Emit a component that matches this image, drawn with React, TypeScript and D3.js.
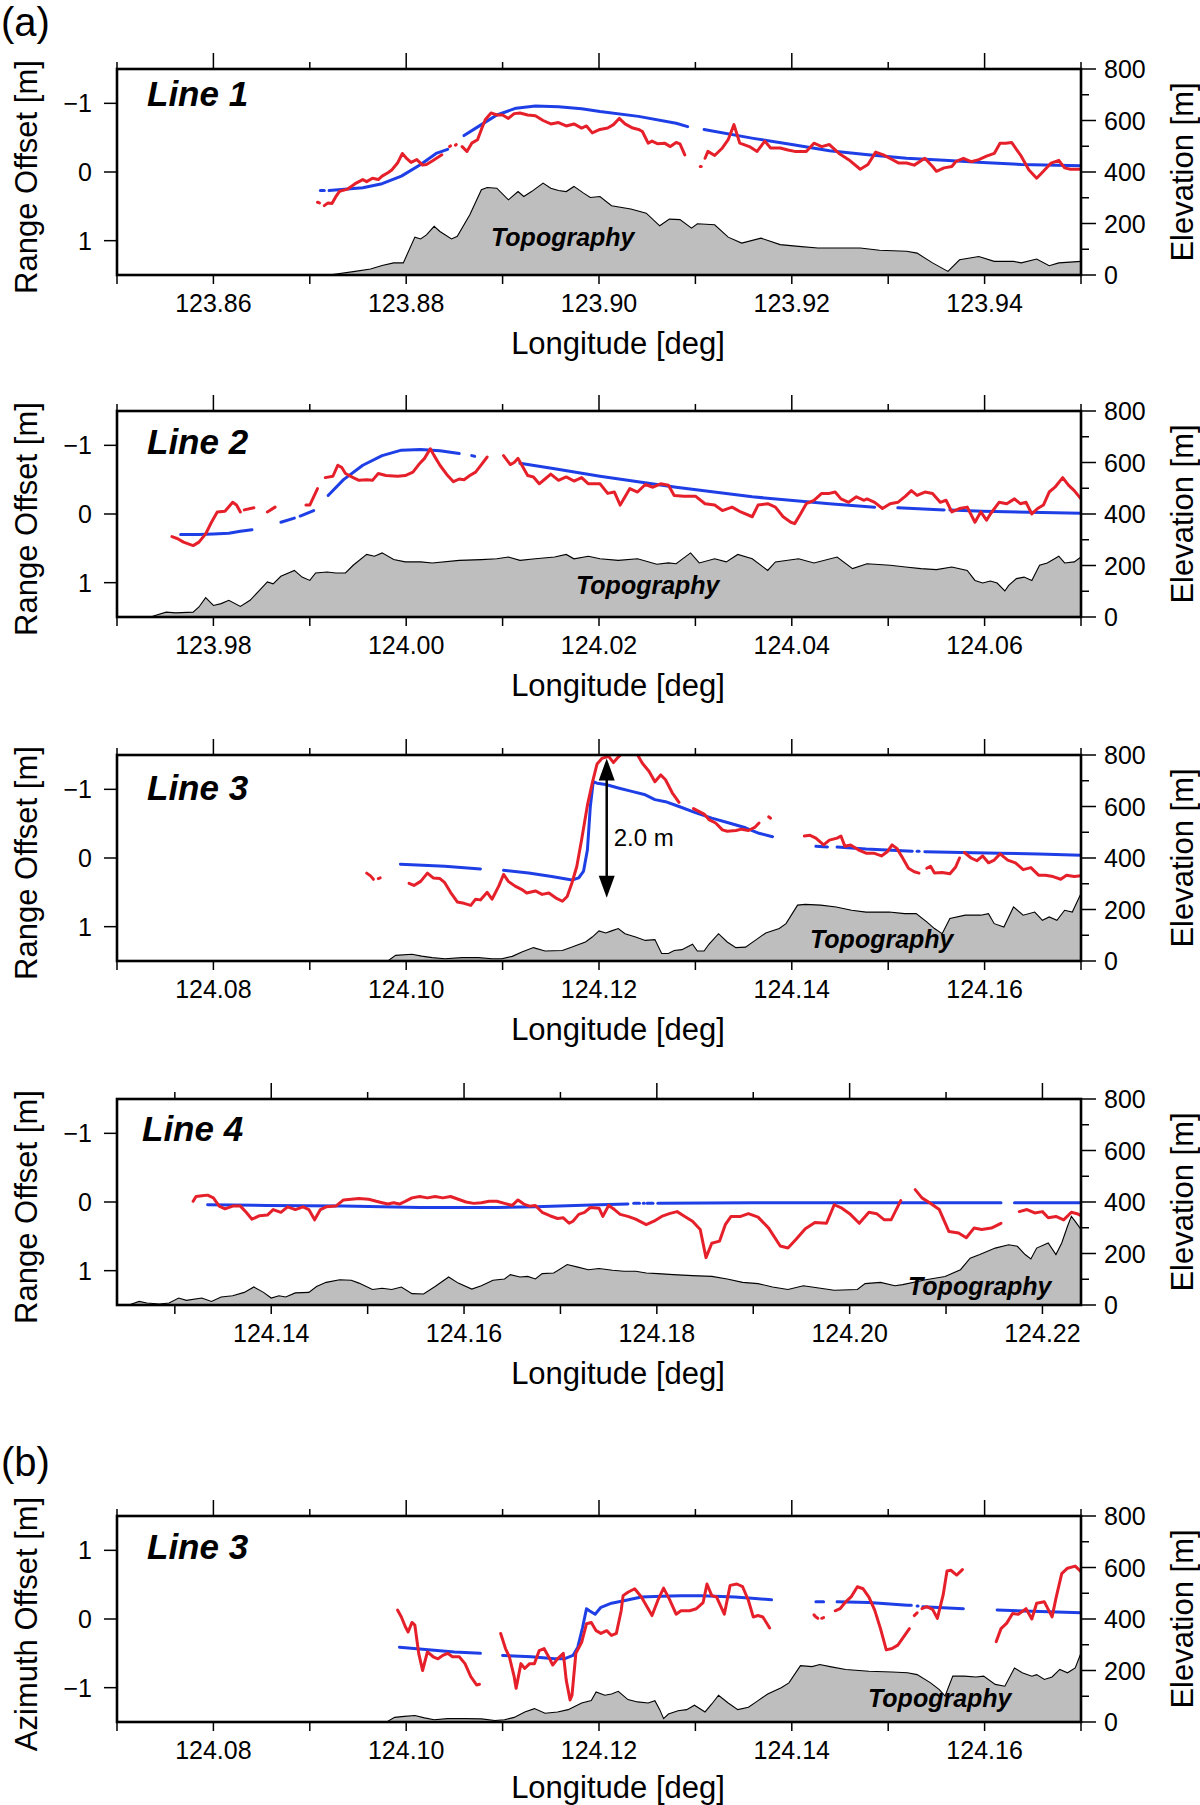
import React from "react";
import * as d3 from "d3";

type Pt = [number, number];

const FONT = "'Liberation Sans', Arial, Helvetica, sans-serif";

// ---------------- DATA ----------------
const lonDomains: [number, number][] = [
  [123.85, 123.95],
  [123.97, 124.07],
  [124.07, 124.17],
  [124.124, 124.224],
  [124.07, 124.17],
];
const lineNames = ["Line 1", "Line 2", "Line 3", "Line 4", "Line 3"];
const yTitles = ["Range Offset [m]", "Range Offset [m]", "Range Offset [m]", "Range Offset [m]", "Azimuth Offset [m]"];
const offsetTicks = [-1, 0, 1];
const elevMajorTicks = [0, 200, 400, 600, 800];
const elevMinorTicks = [100, 300, 500, 700];
const xTitle = "Longitude [deg]";
const elevTitle = "Elevation [m]";
const topoName = "Topography";

const topo1: Pt[] = [[123.85,0],[123.872,0],[123.8747,14],[123.8763,23],[123.8775,37],[123.8787,47],[123.8797,47],[123.88,72],[123.8809,147],[123.8815,140],[123.8821,156],[123.8829,189],[123.8835,169],[123.8847,140],[123.8853,150],[123.8866,234],[123.8878,331],[123.8884,340],[123.8894,337],[123.8906,292],[123.8916,324],[123.8922,305],[123.893,324],[123.8942,357],[123.895,337],[123.8958,328],[123.8966,324],[123.8974,344],[123.8984,318],[123.8991,301],[123.9001,305],[123.9013,269],[123.9033,256],[123.9049,240],[123.9063,191],[123.9073,217],[123.9084,215],[123.9096,182],[123.9102,199],[123.912,195],[123.9134,147],[123.9148,124],[123.9168,143],[123.9188,118],[123.9207,111],[123.9227,105],[123.9271,105],[123.9291,96],[123.9319,92],[123.933,85],[123.9346,47],[123.9362,14],[123.9374,59],[123.9394,72],[123.941,53],[123.943,53],[123.9438,47],[123.9454,62],[123.9467,36],[123.9477,47],[123.95,53]];

const red1: Pt[][] = [
  [[123.8708,0.44],[123.871,0.45]],
  [[123.8715,0.49],[123.8719,0.45],[123.8723,0.46],[123.8727,0.36],[123.8731,0.28],[123.8739,0.25],[123.8747,0.17],[123.8755,0.11],[123.8759,0.14],[123.8765,0.09],[123.8771,0.11],[123.8775,0.06],[123.8781,0.01],[123.8785,-0.03],[123.8791,-0.13],[123.8796,-0.27],[123.8801,-0.19],[123.8805,-0.14],[123.8811,-0.18],[123.8817,-0.1],[123.8821,-0.11],[123.8827,-0.16],[123.8837,-0.25]],
  [[123.8845,-0.37],[123.8846,-0.38]],
  [[123.8851,-0.39],[123.8852,-0.4]],
  [[123.8858,-0.37],[123.8863,-0.3],[123.8868,-0.42],[123.8874,-0.47],[123.8878,-0.62],[123.8882,-0.76],[123.8888,-0.86],[123.8894,-0.83],[123.89,-0.83],[123.8906,-0.78],[123.8912,-0.85],[123.8918,-0.86],[123.8926,-0.83],[123.8934,-0.82],[123.8942,-0.75],[123.895,-0.7],[123.8958,-0.72],[123.8966,-0.67],[123.8974,-0.7],[123.8982,-0.64],[123.8987,-0.67],[123.8993,-0.57],[123.9001,-0.62],[123.9009,-0.64],[123.9015,-0.69],[123.9021,-0.78],[123.9027,-0.7],[123.9035,-0.64],[123.9041,-0.62],[123.9045,-0.59],[123.9051,-0.42],[123.9055,-0.45],[123.9061,-0.41],[123.9068,-0.42],[123.9074,-0.37],[123.908,-0.43],[123.9084,-0.41],[123.9089,-0.25]],
  [[123.9105,-0.08],[123.9106,-0.08]],
  [[123.911,-0.2],[123.9113,-0.3],[123.912,-0.24],[123.9128,-0.35],[123.9134,-0.47],[123.914,-0.69],[123.9146,-0.42],[123.9156,-0.37],[123.9164,-0.3],[123.9172,-0.45],[123.9178,-0.35],[123.9188,-0.35],[123.9196,-0.32],[123.9203,-0.3],[123.9215,-0.3],[123.9223,-0.42],[123.9231,-0.37],[123.9239,-0.4],[123.9249,-0.27],[123.9259,-0.18],[123.9271,-0.04],[123.9279,-0.11],[123.9287,-0.29],[123.9295,-0.25],[123.9303,-0.19],[123.9311,-0.13],[123.9319,-0.13],[123.9327,-0.1],[123.9338,-0.2],[123.9346,-0.08],[123.935,-0.01],[123.9358,-0.06],[123.9366,-0.08],[123.937,-0.15],[123.9378,-0.2],[123.9386,-0.15],[123.9394,-0.18],[123.9402,-0.23],[123.941,-0.27],[123.9416,-0.42],[123.9422,-0.42],[123.9428,-0.43],[123.9438,-0.23],[123.9446,-0.03],[123.9454,0.09],[123.9461,-0.01],[123.9469,-0.13],[123.9477,-0.17],[123.9483,-0.06],[123.9489,-0.04],[123.9497,-0.04],[123.95,-0.04]],
];

const blue1: Pt[][] = [
  [[123.8711,0.27],[123.8715,0.27]],
  [[123.872,0.27],[123.8755,0.23],[123.8775,0.17],[123.8795,0.06],[123.8815,-0.11],[123.8831,-0.27],[123.8843,-0.33]],
  [[123.886,-0.53],[123.8878,-0.69],[123.8894,-0.83],[123.8914,-0.93],[123.8934,-0.96],[123.8958,-0.95],[123.8982,-0.92],[123.9001,-0.88],[123.9041,-0.81],[123.908,-0.71],[123.9092,-0.66]],
  [[123.9109,-0.62],[123.916,-0.49],[123.92,-0.4],[123.9239,-0.31],[123.9279,-0.25],[123.9319,-0.2],[123.9358,-0.17],[123.9398,-0.14],[123.9438,-0.11],[123.95,-0.09]],
];

const topo2: Pt[] = [[123.97,0],[123.9737,3],[123.9751,19],[123.9761,16],[123.9779,19],[123.9785,39],[123.9792,75],[123.98,45],[123.9808,52],[123.9816,65],[123.9828,41],[123.9838,65],[123.9848,104],[123.9856,136],[123.9862,129],[123.987,158],[123.9884,181],[123.9892,155],[123.99,142],[123.9906,171],[123.9918,175],[123.9927,171],[123.9937,171],[123.9945,201],[123.9959,243],[123.9967,236],[123.9975,249],[123.9987,223],[123.9999,214],[124.0015,214],[124.0027,210],[124.0055,220],[124.0078,223],[124.0094,226],[124.0106,233],[124.0118,220],[124.0134,226],[124.0154,233],[124.0166,243],[124.0174,226],[124.0189,236],[124.0201,226],[124.022,220],[124.024,226],[124.026,205],[124.0272,210],[124.028,207],[124.0295,249],[124.0304,210],[124.032,226],[124.0332,214],[124.0344,243],[124.0359,226],[124.0375,181],[124.0383,214],[124.0407,226],[124.0423,210],[124.0447,233],[124.0463,188],[124.0478,207],[124.0502,201],[124.0518,194],[124.0534,188],[124.055,184],[124.0566,194],[124.0582,181],[124.059,142],[124.0598,132],[124.0606,140],[124.0613,132],[124.0621,101],[124.0625,123],[124.0633,149],[124.0641,155],[124.0649,142],[124.0657,201],[124.0665,210],[124.0677,236],[124.0683,210],[124.0693,214],[124.07,233]];

const red2: Pt[][] = [
  [[123.9757,0.33],[123.9763,0.36],[123.9769,0.41],[123.9779,0.46],[123.9785,0.41],[123.9792,0.29],[123.9798,0.12],[123.9804,-0.03],[123.9812,-0.04],[123.982,-0.17],[123.9824,-0.13],[123.9828,-0.03]],
  [[123.9832,-0.06],[123.9842,-0.09]],
  [[123.9856,-0.03],[123.9864,-0.1]],
  [[123.9896,-0.13],[123.99,-0.13],[123.9904,-0.25],[123.9908,-0.37]],
  [[123.9916,-0.53],[123.9924,-0.55],[123.9929,-0.71],[123.9933,-0.68],[123.9937,-0.59],[123.9945,-0.53],[123.9951,-0.49],[123.9959,-0.5],[123.9965,-0.49],[123.9971,-0.59],[123.9979,-0.56],[123.9991,-0.55],[123.9999,-0.56],[124.0007,-0.61],[124.0013,-0.72],[124.0019,-0.81],[124.0025,-0.95],[124.0029,-0.85],[124.0035,-0.71],[124.0043,-0.56],[124.0049,-0.47],[124.0055,-0.51],[124.006,-0.5],[124.0066,-0.56],[124.0072,-0.61],[124.0078,-0.72],[124.0084,-0.83]],
  [[124.0101,-0.85],[124.0108,-0.72],[124.0112,-0.75],[124.0116,-0.81],[124.012,-0.71],[124.0126,-0.56],[124.0132,-0.54],[124.0138,-0.44],[124.0144,-0.51],[124.015,-0.58],[124.0158,-0.49],[124.0166,-0.54],[124.0174,-0.48],[124.0182,-0.53],[124.0189,-0.44],[124.0201,-0.44],[124.0209,-0.3],[124.0216,-0.32],[124.0222,-0.13],[124.0232,-0.37],[124.024,-0.32],[124.0248,-0.43],[124.0256,-0.39],[124.0264,-0.44],[124.0272,-0.42],[124.0278,-0.27],[124.0288,-0.26],[124.03,-0.26],[124.031,-0.15],[124.032,-0.13],[124.0328,-0.05],[124.0338,-0.1],[124.0347,-0.03],[124.0359,0.04],[124.0365,-0.13],[124.0375,-0.15],[124.0383,-0.1],[124.0391,0.04],[124.0399,0.12],[124.0403,0.14],[124.0409,0.0],[124.0415,-0.15],[124.0423,-0.2],[124.0431,-0.3],[124.0439,-0.3],[124.0445,-0.32],[124.0451,-0.22],[124.0459,-0.17],[124.0467,-0.25],[124.0475,-0.2],[124.0478,-0.22],[124.0486,-0.17],[124.0494,-0.08],[124.0502,-0.15],[124.051,-0.17],[124.0518,-0.26],[124.0524,-0.34],[124.053,-0.27],[124.0538,-0.32],[124.0546,-0.3],[124.0554,-0.17],[124.056,-0.2],[124.0566,-0.03],[124.0574,-0.08],[124.0582,-0.1],[124.059,0.12],[124.0596,-0.03],[124.0602,0.09],[124.0606,0.0],[124.0615,-0.17],[124.0623,-0.15],[124.0631,-0.22],[124.0637,-0.15],[124.0643,-0.17],[124.0649,0.0],[124.0655,-0.08],[124.0661,-0.13],[124.0667,-0.32],[124.0673,-0.39],[124.0681,-0.53],[124.0687,-0.42],[124.0693,-0.34],[124.07,-0.22]],
];

const blue2: Pt[][] = [
  [[123.9766,0.3],[123.9785,0.3],[123.98,0.29],[123.9816,0.28],[123.9828,0.25],[123.984,0.23]],
  [[123.987,0.12],[123.9884,0.06]],
  [[123.989,0.03],[123.9904,-0.05]],
  [[123.9919,-0.27],[123.9935,-0.5],[123.9955,-0.71],[123.9975,-0.85],[123.9995,-0.93],[124.0015,-0.94],[124.0035,-0.92],[124.0055,-0.88]],
  [[124.0068,-0.85],[124.0071,-0.84]],
  [[124.0118,-0.74],[124.0154,-0.66],[124.0201,-0.55],[124.028,-0.39],[124.0359,-0.25],[124.0439,-0.15],[124.0486,-0.1]],
  [[124.051,-0.09],[124.0558,-0.06]],
  [[124.0564,-0.06],[124.0598,-0.04],[124.07,-0.01]],
];

const topo3: Pt[] = [[124.07,0],[124.0965,0],[124.0982,3],[124.0989,22],[124.1006,26],[124.1016,19],[124.1027,13],[124.104,9],[124.1058,13],[124.1075,13],[124.1089,9],[124.1099,9],[124.111,18],[124.112,35],[124.1132,52],[124.1144,39],[124.1162,41],[124.1172,54],[124.1186,74],[124.1193,93],[124.12,117],[124.1207,109],[124.1213,117],[124.122,126],[124.1227,106],[124.1238,93],[124.1248,80],[124.1258,83],[124.1265,29],[124.1272,29],[124.1278,41],[124.1286,44],[124.1297,65],[124.1302,39],[124.1309,39],[124.1314,65],[124.1324,106],[124.1333,74],[124.1342,52],[124.1352,54],[124.1362,80],[124.1373,109],[124.1387,126],[124.1394,145],[124.1406,217],[124.1414,220],[124.143,217],[124.1446,210],[124.1462,197],[124.1477,190],[124.1501,190],[124.1517,184],[124.1529,184],[124.154,152],[124.1548,126],[124.1556,106],[124.1564,165],[124.158,178],[124.1596,178],[124.1604,184],[124.161,145],[124.162,132],[124.163,210],[124.164,178],[124.1652,190],[124.166,158],[124.1667,171],[124.1675,158],[124.1683,197],[124.1691,190],[124.17,262]];

const red3: Pt[][] = [
  [[124.0959,0.22],[124.0963,0.26],[124.0966,0.31]],
  [[124.0971,0.3],[124.0973,0.29]],
  [[124.1003,0.37],[124.1008,0.4],[124.1015,0.34],[124.1022,0.22],[124.1028,0.29],[124.1035,0.3],[124.104,0.36],[124.1046,0.5],[124.1053,0.64],[124.106,0.66],[124.1067,0.69],[124.1072,0.6],[124.1077,0.61],[124.1084,0.5],[124.1089,0.6],[124.1096,0.41],[124.1101,0.24],[124.1106,0.34],[124.1113,0.41],[124.112,0.46],[124.1125,0.51],[124.1134,0.48],[124.1141,0.53],[124.1148,0.51],[124.1155,0.58],[124.1162,0.63],[124.1167,0.56],[124.1172,0.36],[124.1177,0.12],[124.1182,-0.27],[124.1188,-0.77],[124.1193,-1.09],[124.1198,-1.37],[124.1203,-1.45],[124.121,-1.48],[124.1215,-1.39],[124.122,-1.47],[124.1226,-1.55],[124.1238,-1.55],[124.1245,-1.38],[124.1252,-1.26],[124.1258,-1.11],[124.1264,-1.21],[124.1269,-1.14],[124.1276,-0.95],[124.1283,-0.81]],
  [[124.1298,-0.72],[124.1309,-0.64],[124.1314,-0.56],[124.1321,-0.51],[124.1328,-0.41],[124.1333,-0.39],[124.1342,-0.4],[124.1348,-0.42],[124.1355,-0.4],[124.1362,-0.45],[124.1366,-0.51]],
  [[124.1376,-0.6],[124.1378,-0.58]],
  [[124.1413,-0.32],[124.1419,-0.33],[124.1425,-0.29],[124.1433,-0.19],[124.1439,-0.26],[124.1447,-0.29],[124.1451,-0.32],[124.1455,-0.17],[124.1461,-0.19],[124.1469,-0.12],[124.1477,-0.07],[124.1485,-0.07],[124.1493,-0.03],[124.1499,-0.09],[124.1504,-0.19],[124.1509,-0.14],[124.1515,0.0],[124.1521,0.15],[124.1527,0.2],[124.1532,0.22]],
  [[124.154,0.15],[124.1544,0.12],[124.1548,0.22],[124.1556,0.21],[124.1564,0.23],[124.157,0.13],[124.1574,0.0]],
  [[124.1579,-0.08],[124.1586,0.0],[124.1592,0.04],[124.1598,-0.03],[124.1604,0.07],[124.161,0.03],[124.1616,-0.06],[124.1624,0.03],[124.1632,0.07],[124.164,0.17],[124.1648,0.14],[124.1656,0.25],[124.1663,0.25],[124.1671,0.27],[124.1679,0.31],[124.1685,0.25],[124.1693,0.27],[124.17,0.26]],
];

const blue3: Pt[][] = [
  [[124.0994,0.09],[124.1023,0.11],[124.104,0.12],[124.1077,0.16]],
  [[124.1101,0.18],[124.1127,0.22],[124.1151,0.27],[124.1172,0.32],[124.1179,0.29],[124.1184,0.19],[124.1188,-0.12],[124.1191,-0.75],[124.1194,-1.11],[124.1198,-1.09],[124.1207,-1.07],[124.122,-1.02],[124.1234,-0.97],[124.1248,-0.92],[124.1258,-0.85],[124.1269,-0.82],[124.1283,-0.75],[124.13,-0.66],[124.1317,-0.58],[124.1335,-0.51],[124.1352,-0.44],[124.1366,-0.36],[124.138,-0.31]],
  [[124.1425,-0.17],[124.1437,-0.16]],
  [[124.1447,-0.16],[124.1477,-0.13],[124.1509,-0.11],[124.1525,-0.1]],
  [[124.153,-0.1],[124.1532,-0.1]],
  [[124.1538,-0.09],[124.1576,-0.08],[124.1616,-0.07],[124.1656,-0.06],[124.17,-0.04]],
];

const arrowLon = 124.1208;
const arrowFrom = -1.45;
const arrowTo = 0.58;
const arrowText = "2.0 m";

const topo4: Pt[] = [[124.124,0],[124.1253,1],[124.1263,14],[124.1271,8],[124.1284,4],[124.1294,8],[124.1304,27],[124.1312,18],[124.1328,27],[124.1338,14],[124.1348,31],[124.136,36],[124.1372,49],[124.1382,70],[124.1392,49],[124.14,27],[124.1408,36],[124.1415,31],[124.1425,47],[124.1439,49],[124.1447,72],[124.1457,88],[124.1471,98],[124.1483,96],[124.1491,85],[124.1505,60],[124.1515,65],[124.1525,60],[124.1535,70],[124.1546,44],[124.1558,43],[124.157,72],[124.1584,109],[124.1594,85],[124.1608,62],[124.1618,75],[124.163,96],[124.1642,101],[124.1648,118],[124.1658,109],[124.1666,111],[124.1674,101],[124.1681,122],[124.1693,124],[124.1707,157],[124.1717,148],[124.1729,137],[124.174,142],[124.1754,135],[124.1766,131],[124.1778,131],[124.1789,124],[124.1801,122],[124.1817,118],[124.1837,114],[124.1857,111],[124.1873,101],[124.1889,88],[124.1905,83],[124.192,70],[124.1936,60],[124.1952,75],[124.1968,66],[124.1984,57],[124.2008,60],[124.2016,83],[124.2032,88],[124.2047,75],[124.2055,79],[124.2079,98],[124.2099,111],[124.2115,137],[124.2125,182],[124.2135,196],[124.2151,221],[124.2165,234],[124.2174,228],[124.2182,196],[124.2188,179],[124.2194,221],[124.2206,241],[124.2214,196],[124.222,241],[124.2226,306],[124.223,344],[124.2234,325],[124.224,293]];

const red4: Pt[][] = [
  [[124.1319,-0.01],[124.1322,-0.08],[124.1328,-0.09],[124.1334,-0.1],[124.134,-0.06],[124.1346,0.06],[124.1352,0.1],[124.136,0.06],[124.1368,0.06],[124.1374,0.15],[124.138,0.25],[124.1388,0.2],[124.1396,0.19],[124.1402,0.11],[124.141,0.15],[124.1417,0.07],[124.1425,0.11],[124.1433,0.07],[124.1439,0.11],[124.1445,0.26],[124.1451,0.11],[124.1457,0.07],[124.1467,0.06],[124.1475,-0.03],[124.1483,-0.04],[124.1491,-0.05],[124.1501,-0.04],[124.1509,-0.01],[124.1515,0.01],[124.1521,0.03],[124.1527,0.01],[124.1533,0.03],[124.1539,-0.01],[124.1546,-0.06],[124.1554,-0.08],[124.1562,-0.06],[124.157,-0.08],[124.1578,-0.06],[124.1586,-0.08],[124.1594,-0.04],[124.1602,0.0],[124.161,0.02],[124.1618,0.01],[124.1626,-0.01],[124.1634,-0.01],[124.1642,0.02],[124.165,0.05],[124.1656,-0.03],[124.1662,0.03],[124.1668,0.06],[124.1674,0.05],[124.1681,0.15],[124.1689,0.2],[124.1697,0.24],[124.1703,0.23],[124.1709,0.31],[124.1713,0.28],[124.1719,0.18],[124.1725,0.15],[124.1731,0.08],[124.174,0.09],[124.1744,0.21],[124.175,0.05],[124.1756,0.11],[124.1762,0.18],[124.177,0.21],[124.1778,0.25],[124.1789,0.33],[124.1797,0.28],[124.1805,0.21],[124.1813,0.17],[124.1821,0.14],[124.1829,0.21],[124.1837,0.28],[124.1845,0.4],[124.1851,0.81],[124.1857,0.6],[124.1865,0.57],[124.1871,0.33],[124.1877,0.21],[124.1887,0.21],[124.1895,0.17],[124.1905,0.22],[124.1916,0.38],[124.1928,0.64],[124.1936,0.67],[124.1944,0.55],[124.1954,0.39],[124.1964,0.3],[124.1976,0.31],[124.1984,0.04],[124.1992,0.09],[124.2,0.17],[124.201,0.31],[124.202,0.15],[124.2028,0.17],[124.2036,0.26],[124.2043,0.26],[124.2053,-0.02]],
  [[124.2068,-0.18],[124.2075,-0.06],[124.2083,0.01],[124.2093,0.11],[124.2103,0.43],[124.2113,0.45],[124.2121,0.52],[124.2129,0.38],[124.2137,0.4],[124.2147,0.38],[124.2157,0.31]],
  [[124.2176,0.14],[124.2184,0.11],[124.2192,0.16],[124.22,0.14],[124.2206,0.23],[124.2214,0.21],[124.2222,0.26],[124.223,0.15],[124.2236,0.17],[124.224,0.2]],
];

const blue4: Pt[][] = [
  [[124.1334,0.04],[124.1396,0.05],[124.1475,0.06],[124.1554,0.08],[124.1634,0.08],[124.1674,0.07],[124.174,0.04],[124.177,0.03]],
  [[124.1776,0.02],[124.1782,0.02]],
  [[124.1786,0.02],[124.1787,0.02]],
  [[124.179,0.02],[124.1796,0.02]],
  [[124.1801,0.02],[124.19,0.01],[124.2,0.01],[124.2157,0.01]],
  [[124.2171,0.01],[124.224,0.01]],
];

const topo5: Pt[] = [[124.07,0],[124.0966,0],[124.0981,3],[124.0988,18],[124.0998,22],[124.1009,25],[124.1019,16],[124.1029,9],[124.1043,13],[124.1061,13],[124.1078,12],[124.1092,6],[124.1102,9],[124.1112,18],[124.1123,39],[124.1133,52],[124.1144,34],[124.1157,39],[124.1168,48],[124.1182,74],[124.1192,83],[124.1197,117],[124.1206,104],[124.1213,109],[124.122,119],[124.123,87],[124.124,78],[124.1251,74],[124.1258,83],[124.1263,48],[124.1267,13],[124.1272,31],[124.1282,44],[124.1291,48],[124.1299,65],[124.131,39],[124.1317,70],[124.1324,104],[124.1334,74],[124.1344,48],[124.1355,57],[124.1365,83],[124.1375,109],[124.1389,133],[124.1397,152],[124.1409,219],[124.1421,215],[124.1429,223],[124.1441,214],[124.1456,204],[124.148,197],[124.1504,194],[124.152,191],[124.153,184],[124.1544,152],[124.1553,126],[124.1559,101],[124.1567,178],[124.1579,178],[124.1591,175],[124.1599,178],[124.1611,146],[124.1621,139],[124.1631,210],[124.1639,191],[124.1649,178],[124.1654,184],[124.1662,165],[124.167,175],[124.1678,204],[124.1686,191],[124.1694,210],[124.17,268]];

const red5: Pt[][] = [
  [[124.0991,0.13],[124.0995,0.03],[124.0999,-0.11],[124.1002,-0.19],[124.1006,-0.05],[124.1009,-0.09],[124.1013,-0.5],[124.1017,-0.75],[124.1022,-0.48],[124.1028,-0.55],[124.1033,-0.58],[124.1038,-0.53],[124.1043,-0.5],[124.1048,-0.55],[124.1055,-0.55],[124.1061,-0.65],[124.1067,-0.84],[124.1073,-0.96],[124.1076,-0.95]],
  [[124.1098,-0.21],[124.1103,-0.43],[124.1107,-0.55],[124.1112,-0.84],[124.1114,-1.01],[124.1119,-0.65],[124.1123,-0.72],[124.1128,-0.65],[124.1133,-0.65],[124.1138,-0.46],[124.1143,-0.43],[124.1147,-0.53],[124.1152,-0.67],[124.1157,-0.58],[124.1163,-0.5],[124.1166,-0.89],[124.117,-1.18],[124.1172,-1.11],[124.1176,-0.5],[124.1182,-0.34],[124.1187,-0.07],[124.1192,-0.05],[124.1197,-0.17],[124.1202,-0.21],[124.1208,-0.17],[124.1213,-0.24],[124.1218,-0.21],[124.1223,0.12],[124.1225,0.34],[124.123,0.39],[124.1237,0.44],[124.1244,0.32],[124.1251,0.15],[124.1255,0.05],[124.1261,0.27],[124.1267,0.45],[124.1273,0.29],[124.128,0.07],[124.1285,0.12],[124.1294,0.12],[124.1301,0.15],[124.1308,0.24],[124.1312,0.51],[124.1317,0.34],[124.1322,0.32],[124.133,0.07],[124.1336,0.49],[124.1343,0.51],[124.1349,0.47],[124.1355,0.27],[124.136,0.03],[124.1365,0.05],[124.137,0.03],[124.1377,-0.13]],
  [[124.1423,0.06],[124.1425,0.03],[124.1427,0.01]],
  [[124.1431,0.01],[124.1433,0.02]],
  [[124.1445,0.12],[124.145,0.15],[124.1456,0.25],[124.1462,0.33],[124.1468,0.47],[124.1474,0.44],[124.148,0.32],[124.1486,0.13],[124.1492,-0.14],[124.1498,-0.45],[124.1504,-0.43],[124.151,-0.38],[124.1516,-0.26],[124.1522,-0.14]],
  [[124.1527,0.05],[124.153,0.09]],
  [[124.1535,0.15],[124.154,0.18],[124.1546,0.14],[124.1551,0.01],[124.1557,0.35],[124.1561,0.7],[124.1565,0.71],[124.1571,0.64],[124.1577,0.72]],
  [[124.1612,-0.33],[124.1617,-0.14],[124.1623,-0.06],[124.1629,0.08],[124.1635,0.07],[124.1643,0.15],[124.1649,0.0],[124.1654,0.23],[124.1662,0.25],[124.167,0.03],[124.1674,0.3],[124.168,0.66],[124.1686,0.74],[124.1694,0.77],[124.17,0.69]],
];

const blue5: Pt[][] = [
  [[124.0993,-0.41],[124.1026,-0.45],[124.105,-0.48],[124.1077,-0.5]],
  [[124.11,-0.53],[124.113,-0.55],[124.1154,-0.58],[124.1164,-0.58],[124.1173,-0.53],[124.1178,-0.41],[124.1183,-0.12],[124.1187,0.15],[124.119,0.12],[124.1196,0.07],[124.1202,0.17],[124.1213,0.23],[124.1227,0.27],[124.1244,0.32],[124.1265,0.33],[124.1285,0.34],[124.1306,0.34],[124.132,0.33],[124.1341,0.32],[124.1362,0.3],[124.1379,0.28]],
  [[124.1425,0.25],[124.1433,0.25]],
  [[124.1447,0.25],[124.148,0.24],[124.152,0.2],[124.1524,0.2]],
  [[124.153,0.19],[124.1531,0.19]],
  [[124.1536,0.18],[124.1578,0.15]],
  [[124.1613,0.13],[124.1658,0.11],[124.17,0.09]],
];

const topos = [topo1, topo2, topo3, topo4, topo5];
const reds = [red1, red2, red3, red4, red5];
const blues = [blue1, blue2, blue3, blue4, blue5];

// ---------------- LAYOUT ----------------
const W = 1200;
const HT = 1805;
const L = 117;
const R = 1081;
const H = 206;
const TOPS = [69, 411, 755, 1099, 1516];
const X_TITLE_DY = [79, 79, 79, 79, 76];
const LINE_LABEL_POS: [number, number][] = [[147, 37], [147, 43], [147, 45], [142, 42], [147, 43]];
const TOPO_LABEL_POS: [number, number][] = [[491, 246], [576, 594], [810, 948], [908, 1295], [868, 1707]];
const RED = "#e6202a";
const BLUE = "#1f3fe6";
const GRAY = "#bebebe";

function Panel({ idx }: { idx: number }) {
  const top = TOPS[idx];
  const bottom = top + H;
  const dom = lonDomains[idx];
  const azimuth = idx === 4;
  const x = d3.scaleLinear().domain(dom).range([L, R]);
  const yOff = d3.scaleLinear().domain(azimuth ? [1.5, -1.5] : [-1.5, 1.5]).range([top, bottom]);
  const yEl = d3.scaleLinear().domain([0, 800]).range([bottom, top]);
  const area = d3.area<Pt>().x((d) => x(d[0])).y0(bottom).y1((d) => yEl(d[1]));
  const topLine = d3.line<Pt>().x((d) => x(d[0])).y((d) => yEl(d[1]));
  const line = d3.line<Pt>().x((d) => x(d[0])).y((d) => yOff(d[1])).curve(d3.curveLinear);
  const k0 = Math.ceil(dom[0] * 100 - 1e-6);
  const k1 = Math.floor(dom[1] * 100 + 1e-6);
  const ticks = d3.range(k0, k1 + 1).map((k) => ({ v: k / 100, major: k % 2 === 0 }));
  const fmt = d3.format(".2f");
  const clipId = `clip${idx}`;
  const midY = (top + bottom) / 2;

  const arrow = idx === 2 ? (() => {
    const ax = x(arrowLon);
    const ya = yOff(arrowFrom);
    const yb = yOff(arrowTo);
    const hl = 22, hw = 8;
    return (
      <g>
        <line x1={ax} x2={ax} y1={ya + hl - 2} y2={yb - hl + 2} stroke="#000" strokeWidth={2.5} />
        <polygon points={`${ax},${ya} ${ax - hw},${ya + hl} ${ax + hw},${ya + hl}`} fill="#000" />
        <polygon points={`${ax},${yb} ${ax - hw},${yb - hl} ${ax + hw},${yb - hl}`} fill="#000" />
        <text x={ax + 7} y={(ya + yb) / 2 + 18} fontSize={24} fontFamily={FONT}>{arrowText}</text>
      </g>
    );
  })() : null;

  return (
    <g>
      <defs>
        <clipPath id={clipId}>
          <rect x={L} y={top} width={R - L} height={H} />
        </clipPath>
      </defs>
      <g clipPath={`url(#${clipId})`}>
        <path d={area(topos[idx]) || ""} fill={GRAY} stroke="none" />
        <path d={topLine(topos[idx]) || ""} fill="none" stroke="#000" strokeWidth={1.1} />
        {blues[idx].map((seg, i) => (
          <path key={`b${i}`} d={line(seg) || ""} fill="none" stroke={BLUE} strokeWidth={3} strokeLinejoin="round" strokeLinecap="round" />
        ))}
        {reds[idx].map((seg, i) => (
          <path key={`r${i}`} d={line(seg) || ""} fill="none" stroke={RED} strokeWidth={3} strokeLinejoin="round" strokeLinecap="round" />
        ))}
      </g>
      {arrow}
      <rect x={L} y={top} width={R - L} height={H} fill="none" stroke="#000" strokeWidth={2.6} />
      {ticks.map((t, i) => (
        <line key={`tt${i}`} x1={x(t.v)} x2={x(t.v)} y1={top} y2={top - (t.major ? 16 : 7)} stroke="#000" strokeWidth={1.5} />
      ))}
      {ticks.map((t, i) => (
        <line key={`bt${i}`} x1={x(t.v)} x2={x(t.v)} y1={bottom} y2={bottom + 9} stroke="#000" strokeWidth={1.5} />
      ))}
      {ticks.filter((t) => t.major).map((t, i) => (
        <text key={`bl${i}`} x={x(t.v)} y={bottom + 37} textAnchor="middle" fontSize={25} fontFamily={FONT}>{fmt(t.v)}</text>
      ))}
      <text x={618} y={bottom + X_TITLE_DY[idx]} textAnchor="middle" fontSize={31} fontFamily={FONT}>{xTitle}</text>
      {offsetTicks.map((v, i) => (
        <g key={`lt${i}`}>
          <line x1={L} x2={L - 13} y1={yOff(v)} y2={yOff(v)} stroke="#000" strokeWidth={1.5} />
          <text x={92} y={yOff(v) + 9} textAnchor="end" fontSize={25} fontFamily={FONT}>{v < 0 ? `\u2212${Math.abs(v)}` : `${v}`}</text>
        </g>
      ))}
      <text transform={`translate(37,${midY + 5}) rotate(-90)`} textAnchor="middle" fontSize={31} fontFamily={FONT}>{yTitles[idx]}</text>
      {elevMajorTicks.map((v, i) => (
        <g key={`rt${i}`}>
          <line x1={R} x2={R + 15} y1={yEl(v)} y2={yEl(v)} stroke="#000" strokeWidth={1.5} />
          <text x={1104} y={yEl(v) + 9} textAnchor="start" fontSize={25} fontFamily={FONT}>{v}</text>
        </g>
      ))}
      {elevMinorTicks.map((v, i) => (
        <line key={`rm${i}`} x1={R} x2={R + 8} y1={yEl(v)} y2={yEl(v)} stroke="#000" strokeWidth={1.5} />
      ))}
      <text transform={`translate(1193,${midY}) rotate(-90)`} textAnchor="middle" fontSize={31} fontFamily={FONT}>{elevTitle}</text>
      <text x={LINE_LABEL_POS[idx][0]} y={top + LINE_LABEL_POS[idx][1]} fontSize={35} fontWeight="bold" fontStyle="italic" fontFamily={FONT}>{lineNames[idx]}</text>
      <text x={TOPO_LABEL_POS[idx][0]} y={TOPO_LABEL_POS[idx][1]} fontSize={25} fontWeight="bold" fontStyle="italic" fontFamily={FONT}>{topoName}</text>
    </g>
  );
}

export default function App() {
  return (
    <svg width={W} height={HT} viewBox={`0 0 ${W} ${HT}`} style={{ position: "absolute", left: 0, top: 0, background: "#fff", display: "block" }}>
      <rect x={0} y={0} width={W} height={HT} fill="#fff" />
      <text x={1} y={36} fontSize={40} fontFamily={FONT}>(a)</text>
      <text x={1} y={1476} fontSize={40} fontFamily={FONT}>(b)</text>
      {[0, 1, 2, 3, 4].map((i) => <Panel key={i} idx={i} />)}
    </svg>
  );
}
